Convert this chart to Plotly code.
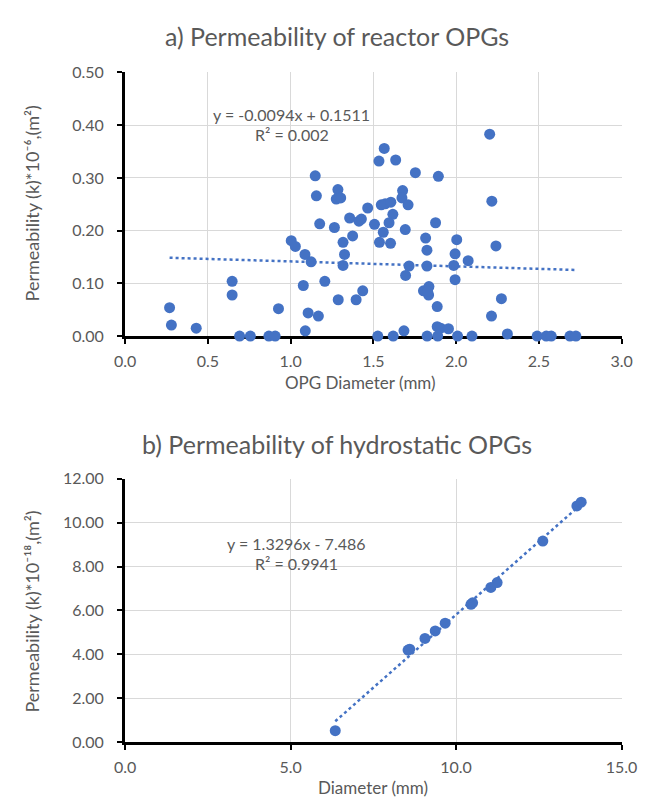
import numpy as np
import plotly.graph_objects as go

# ---------------- data ----------------
reactor_diam = [0.269, 0.280, 0.430, 0.647, 0.647, 0.692, 0.757, 0.869, 0.907, 0.927,
                1.004, 1.029, 1.087, 1.124, 1.077, 1.106, 1.168, 1.089, 1.149, 1.156,
                1.176, 1.207, 1.286, 1.276, 1.303, 1.265, 1.317, 1.375, 1.326, 1.317,
                1.288, 1.396, 1.436, 1.357, 1.413, 1.428, 1.466, 1.507, 1.534, 1.527,
                1.548, 1.560, 1.537, 1.566, 1.635, 1.754, 1.893, 2.203, 2.216, 2.241,
                2.274, 2.214, 2.310, 1.677, 1.673, 1.710, 1.572, 1.606, 1.618, 1.595,
                1.693, 1.876, 1.604, 1.816, 1.824, 2.004, 1.994, 1.986, 2.073, 1.994,
                1.824, 1.716, 1.695, 1.803, 1.836, 1.834, 1.828, 1.886, 1.886, 1.907,
                1.954, 1.685, 1.620, 1.825, 1.889, 2.009, 2.096, 2.490, 2.545, 2.575,
                2.688, 2.724]
reactor_perm = [0.054, 0.021, 0.015, 0.104, 0.078, 0.000, 0.000, 0.000, 0.000, 0.052,
                0.181, 0.170, 0.155, 0.141, 0.096, 0.044, 0.038, 0.010, 0.304, 0.266,
                0.213, 0.104, 0.278, 0.260, 0.262, 0.206, 0.178, 0.190, 0.155, 0.134,
                0.069, 0.069, 0.086, 0.224, 0.218, 0.222, 0.243, 0.212, 0.332, 0.000,
                0.249, 0.197, 0.178, 0.356, 0.334, 0.310, 0.303, 0.383, 0.256, 0.171,
                0.071, 0.038, 0.004, 0.276, 0.262, 0.249, 0.251, 0.254, 0.231, 0.215,
                0.202, 0.215, 0.176, 0.186, 0.163, 0.183, 0.156, 0.134, 0.143, 0.107,
                0.133, 0.133, 0.115, 0.086, 0.094, 0.078, 0.085, 0.056, 0.018, 0.015,
                0.014, 0.010, 0.000, 0.000, 0.000, 0.000, 0.000, 0.000, 0.000, 0.000,
                0.000, 0.000]
reactor_fit = [-0.0094, 0.1511]   # slope, intercept
reactor_r2 = 0.002

hydro_diam = [6.35, 8.55, 8.60, 9.06, 9.37, 9.67, 10.45, 10.50, 11.05, 11.24, 12.62, 13.65, 13.78]
hydro_perm = [0.53, 4.20, 4.24, 4.73, 5.07, 5.42, 6.28, 6.35, 7.05, 7.27, 9.16, 10.76, 10.93]
hydro_fit = [1.3296, -7.486]
hydro_r2 = 0.9941

title_a = "a) Permeability of reactor OPGs"
title_b = "b) Permeability of hydrostatic OPGs"
xtitle_a = "OPG Diameter (mm)"
xtitle_b = "Diameter (mm)"
ytitle_a = "Permeability (k)*10⁻⁶,(m²)"
ytitle_b = "Permeability (k)*10⁻¹⁸,(m²)"

# ---------------- style ----------------
W, H = 651, 805
BLUE = "#4472C4"
GRAY = "#595959"
GRID = "#D9D9D9"
FONT = "Lato, Noto Sans, DejaVu Sans"

def px_x(p):
    return p / W

def px_y(p):
    return 1 - p / H

fig = go.Figure()

# reactor scatter + trend
fig.add_trace(go.Scatter(x=reactor_diam, y=reactor_perm, mode="markers",
                         marker=dict(color=BLUE, size=11), cliponaxis=False,
                         xaxis="x", yaxis="y", showlegend=False))
rx = np.array([min(reactor_diam), max(reactor_diam)])
fig.add_trace(go.Scatter(x=rx, y=reactor_fit[0] * rx + reactor_fit[1], mode="lines",
                         line=dict(color=BLUE, width=2.5, dash="dot"),
                         xaxis="x", yaxis="y", showlegend=False))

# hydro scatter + trend
fig.add_trace(go.Scatter(x=hydro_diam, y=hydro_perm, mode="markers",
                         marker=dict(color=BLUE, size=11), cliponaxis=False,
                         xaxis="x2", yaxis="y2", showlegend=False))
hx = np.array([min(hydro_diam), max(hydro_diam)])
fig.add_trace(go.Scatter(x=hx, y=hydro_fit[0] * hx + hydro_fit[1], mode="lines",
                         line=dict(color=BLUE, width=2.5, dash="dot"),
                         xaxis="x2", yaxis="y2", showlegend=False))

tickfont = dict(family=FONT, size=16, color=GRAY)
common_x = dict(showgrid=True, gridcolor=GRID, gridwidth=1.3, zeroline=False,
                showline=True, linecolor="black", linewidth=3, ticks="outside",
                ticklen=5, tickwidth=2, tickcolor="black", tickfont=tickfont,
                layer="below traces", tickformat=".1f", ticklabelstandoff=4)
common_y = dict(showgrid=True, gridcolor=GRID, gridwidth=1.3, zeroline=False,
                showline=True, linecolor="black", linewidth=3, ticks="outside",
                ticklen=5, tickwidth=2, tickcolor="black", tickfont=tickfont,
                layer="below traces", tickformat=".2f", ticklabelstandoff=10)

xd = [px_x(119), px_x(637)]
fig.update_layout(
    width=W, height=H, margin=dict(l=0, r=0, t=0, b=0),
    paper_bgcolor="white", plot_bgcolor="white",
    font=dict(family=FONT, color=GRAY),
    xaxis=dict(domain=xd, range=[0, 3], dtick=0.5, anchor="y", **common_x),
    yaxis=dict(domain=[px_y(334), px_y(64)], range=[0, 0.5], dtick=0.1, anchor="x", **common_y),
    xaxis2=dict(domain=xd, range=[0, 15], dtick=5, anchor="y2", **common_x),
    yaxis2=dict(domain=[px_y(750), px_y(480)], range=[0, 12], dtick=2, anchor="x2", **common_y),
)

ann = []
def add_text(text, x, y, size, angle=0):
    ann.append(dict(text=text, x=px_x(x), y=px_y(y), xref="paper", yref="paper",
                    xanchor="center", yanchor="middle", showarrow=False,
                    textangle=angle, font=dict(family=FONT, size=size, color=GRAY)))

add_text(title_a, 340, 27, 25)
add_text(title_b, 340, 445, 25)
add_text(xtitle_a, 365, 382, 17)
add_text(xtitle_b, 378, 796, 17)
add_text(ytitle_a, 22, 198, 18, -90)
add_text(ytitle_b, 22, 616, 18, -90)

add_text(f"y = {reactor_fit[0]:.4f}x + {reactor_fit[1]:.4f}", 293, 107, 16)
add_text(f"R² = {reactor_r2:.3f}", 293, 128, 16)
add_text(f"y = {hydro_fit[0]:.4f}x - {abs(hydro_fit[1]):.3f}", 298, 546, 16)
add_text(f"R² = {hydro_r2:.4f}", 298, 567, 16)
fig.update_layout(annotations=ann)

fig.write_html("out.html")
